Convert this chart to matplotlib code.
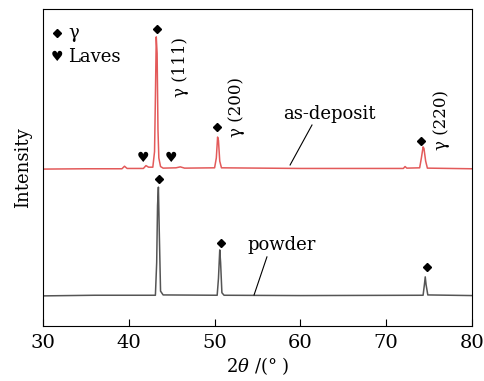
import matplotlib.pyplot as plt

# as-deposit pattern (2theta, intensity in arbitrary units, offset)
dep_x = [30, 35, 39.2, 39.5, 39.8, 41.7, 42.0, 42.3, 42.8, 43.0, 43.1, 43.2, 43.3, 43.4, 43.5, 43.7,
         44.0, 45.5, 46.0, 46.5, 50.0, 50.2, 50.35, 50.45, 50.6, 50.8, 60, 72.0, 72.2, 72.4, 73.9,
         74.1, 74.3, 74.4, 74.6, 74.8, 80]
dep_y = [49.5, 49.6, 49.6, 50.4, 49.7, 49.7, 50.6, 50.1, 50.1, 55, 72, 91.2, 86, 62, 53, 50.3,
         49.8, 49.9, 50.2, 49.8, 49.9, 53, 59.6, 58.5, 52, 49.9, 49.7, 49.7, 50.3, 49.8, 49.9,
         53, 56.5, 56, 52, 49.8, 49.6]

# powder pattern
pow_x = [30, 36, 43.1, 43.25, 43.35, 43.45, 43.55, 43.7, 44.0, 50.3, 50.45, 50.6, 50.7, 50.85,
         51.1, 60, 74.3, 74.45, 74.55, 74.65, 74.85, 80]
pow_y = [9.5, 9.7, 9.7, 20, 38, 43.8, 30, 11, 9.8, 9.7, 15, 24, 20, 10.5,
         9.7, 9.6, 9.7, 13, 15.5, 13, 9.8, 9.6]

# phase markers
gamma_dep_x = [43.25, 50.3, 74.0]
gamma_dep_y = [93.7, 62.8, 58.4]
laves_x = [41.6, 44.9]
laves_y = [53.0, 53.0]
gamma_pow_x = [43.5, 50.7, 74.8]
gamma_pow_y = [46.4, 26.2, 18.6]

peak_labels = ['γ (111)', 'γ (200)', 'γ (220)']
peak_label_x = [46.0, 52.6, 76.5]
peak_label_y = [81.7, 69.0, 65.0]

plt.rcParams['font.family'] = ['DejaVu Serif', 'DejaVu Sans']
plt.rcParams['mathtext.fontset'] = 'dejavuserif'

fig = plt.figure(figsize=(4.85, 3.81), dpi=100)
ax = fig.add_axes([43 / 485, 1 - 326 / 381, 429 / 485, 317 / 381])

ax.plot(dep_x, dep_y, color='#e35a5a', lw=1.1)
ax.plot(pow_x, pow_y, color='#555555', lw=1.1)

ax.plot(gamma_dep_x, gamma_dep_y, 'D', color='black', ms=4.5)
ax.plot(gamma_pow_x, gamma_pow_y, 'D', color='black', ms=4.5)
for x, y in zip(laves_x, laves_y):
    ax.text(x, y, '♥', fontsize=10, ha='center', va='center', family=['DejaVu Sans'])

for lab, x, y in zip(peak_labels, peak_label_x, peak_label_y):
    ax.text(x, y, lab, rotation=90, fontsize=12, ha='center', va='center')

# legend
ax.plot([31.6], [92.4], 'D', color='black', ms=4.5)
ax.text(32.9, 92.4, 'γ', fontsize=13, va='center')
ax.text(31.6, 84.9, '♥', fontsize=10, ha='center', va='center', family=['DejaVu Sans'])
ax.text(32.9, 84.9, 'Laves', fontsize=13, va='center')

ax.text(63.4, 66.9, 'as-deposit', fontsize=13, ha='center', va='center')
ax.plot([61.35, 58.8], [63.4, 50.8], color='black', lw=0.8)
ax.text(57.8, 25.5, 'powder', fontsize=13, ha='center', va='center')
ax.plot([56.1, 54.6], [21.8, 9.8], color='black', lw=0.8)

ax.set_xlim(30, 80)
ax.set_ylim(0, 100)
ax.set_xticks([30, 40, 50, 60, 70, 80])
ax.set_yticks([])
ax.tick_params(axis='x', direction='in', length=5, labelsize=14, pad=6)
ax.set_xlabel(r'2$\theta$ /(° )', fontsize=13, labelpad=2)
ax.set_ylabel('Intensity', fontsize=13, labelpad=8)

fig.savefig('out.png', dpi=100)
